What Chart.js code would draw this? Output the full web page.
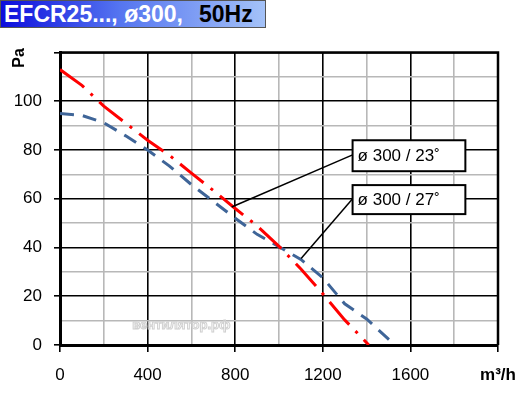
<!DOCTYPE html>
<html>
<head>
<meta charset="utf-8">
<script src="https://cdn.jsdelivr.net/npm/chart.js@4"></script>
<style>
  body { margin: 0; background: #fff; }
  #wrap { position: relative; width: 532px; height: 393px; }
  #title {
    position: absolute; left: 0; top: 0; width: 264px; height: 26px;
    border: 1px solid #555; box-sizing: content-box;
    background: linear-gradient(to right, #0c0cdc, #5575f0 45%, #a4c2f8);
    font: bold 23px "Liberation Sans", Arial, sans-serif; line-height: 26px;
    white-space: nowrap;
  }
  #title .w { color: #fff; margin-left: 3px; }
  #title .b { color: #000; margin-left: 16px; }
</style>
</head>
<body>
<div id="wrap">
  <canvas id="fanChart"></canvas>
  <div id="title"><span class="w">EFCR25..., ø300,</span><span class="b">50Hz</span></div>
</div>
<script>
// curve ø300 / 23°
const flow23 = [0, 100, 200, 300, 400, 500, 600, 700, 800, 900, 1000, 1100, 1200, 1300, 1410];
const pa23 = [113, 106.5, 98, 91, 84, 77.8, 70.5, 63.4, 56, 48.9, 40.5, 31.2, 21, 10.3, 0];
// curve ø300 / 27°
const flow27 = [0, 100, 200, 300, 400, 500, 600, 700, 800, 900, 1000, 1100, 1200, 1300, 1400, 1500, 1530];
const pa27 = [95, 94.2, 91.2, 85.8, 80, 73.4, 65.8, 58.9, 52, 45.4, 40.3, 35.1, 27.6, 16.9, 10.7, 2.4, 0];

const xTickLabels = ['0', '400', '800', '1200', '1600'];
const yTickLabels = ['0', '20', '40', '60', '80', '100'];
const labels = ['ø 300 / 23˚', 'ø 300 / 27˚'];

const FONT = '"Liberation Sans", Arial, sans-serif';

function toPoints(xs, ys) {
    return xs.map((x, i) => ({ x: x, y: ys[i] }));
}

// boxes + leader lines, placed in data coordinates
const notes = [
    { text: labels[0], x1: 1336, x2: 1851, y1: 84, y2: 71.3, from: [1336, 78], to: [784, 56.6] },
    { text: labels[1], x1: 1336, x2: 1851, y1: 65.6, y2: 53.7, from: [1336, 60], to: [1101, 35.5] }
];

const extras = {
    id: 'extras',
    afterDatasetsDraw(chart) {
        const c = chart.ctx, xs = chart.scales.x, ys = chart.scales.y;
        c.save();
        // watermark
        c.font = 'bold 13px ' + FONT;
        c.strokeStyle = '#d0d0d0';
        c.lineWidth = 1;
        c.textBaseline = 'middle';
        c.strokeText('вентилятор.рф', xs.getPixelForValue(330), ys.getPixelForValue(8));

        notes.forEach(n => {
            c.strokeStyle = '#000';
            c.lineWidth = 1.5;
            c.beginPath();
            c.moveTo(xs.getPixelForValue(n.from[0]), ys.getPixelForValue(n.from[1]));
            c.lineTo(xs.getPixelForValue(n.to[0]), ys.getPixelForValue(n.to[1]));
            c.stroke();
            const l = xs.getPixelForValue(n.x1), r = xs.getPixelForValue(n.x2);
            const t = ys.getPixelForValue(n.y1), b = ys.getPixelForValue(n.y2);
            c.fillStyle = '#fff';
            c.fillRect(l, t, r - l, b - t);
            c.lineWidth = 2;
            c.strokeRect(l, t, r - l, b - t);
            c.fillStyle = '#000';
            c.font = '17px ' + FONT;
            c.textBaseline = 'middle';
            c.fillText(n.text, l + 5, (t + b) / 2 + 1);
        });

        // frame top / right
        const a = chart.chartArea;
        c.strokeStyle = '#000';
        c.lineWidth = 2.5;
        c.beginPath();
        c.moveTo(a.left, a.top);
        c.lineTo(a.right, a.top);
        c.lineTo(a.right, a.bottom);
        c.stroke();

        // y unit
        c.font = 'bold 16px ' + FONT;
        c.translate(20, 58);
        c.rotate(-Math.PI / 2);
        c.textAlign = 'center';
        c.textBaseline = 'middle';
        c.fillText('Pa', 0, 0);
        c.restore();
    }
};

new Chart(document.getElementById('fanChart'), {
    type: 'line',
    data: {
        datasets: [{
            label: labels[0],
            data: toPoints(flow23, pa23),
            borderColor: '#ff0000',
            borderWidth: 3,
            borderDash: [30, 9, 3, 9],
            pointRadius: 0,
            tension: 0
        }, {
            label: labels[1],
            data: toPoints(flow27, pa27),
            borderColor: '#3f6598',
            borderWidth: 3,
            borderDash: [14, 9],
            pointRadius: 0,
            tension: 0
        }]
    },
    options: {
        responsive: true,
        maintainAspectRatio: false,
        animation: false,
        layout: { padding: { top: 52.5, right: 34, left: 0, bottom: 0 } },
        plugins: { legend: { display: false }, tooltip: { enabled: false } },
        scales: {
            x: {
                type: 'linear',
                min: 0, max: 2000,
                afterFit: s => { s.height = 48; },
                border: { color: '#000', width: 3 },
                grid: {
                    color: ctx => ctx.tick.value % 400 === 0 ? '#000' : '#b8b8b8',
                    lineWidth: 1.6,
                    tickColor: ctx => ctx.tick.value % 400 === 0 ? '#000' : 'rgba(0,0,0,0)',
                    tickLength: 7
                },
                ticks: {
                    stepSize: 200,
                    autoSkip: false,
                    maxRotation: 0,
                    padding: 13,
                    color: '#000',
                    font: ctx => ({ family: FONT, size: 17, weight: ctx.tick && ctx.tick.value === 2000 ? 'bold' : 'normal' }),
                    callback: v => v === 2000 ? 'm³/h' : (xTickLabels.includes(String(v)) ? String(v) : '')
                }
            },
            y: {
                min: 0, max: 120,
                afterFit: s => { s.width = 60; },
                border: { color: '#000', width: 3 },
                grid: {
                    color: ctx => ctx.tick.value % 20 === 0 ? '#000' : '#b8b8b8',
                    lineWidth: 1.6,
                    tickColor: ctx => ctx.tick.value % 20 === 0 ? '#000' : 'rgba(0,0,0,0)',
                    tickLength: 6
                },
                ticks: {
                    stepSize: 10,
                    autoSkip: false,
                    padding: 12,
                    color: '#000',
                    font: { family: FONT, size: 17 },
                    callback: v => yTickLabels.includes(String(v)) ? String(v) : ''
                }
            }
        }
    },
    plugins: [extras]
});
</script>
</body>
</html>
